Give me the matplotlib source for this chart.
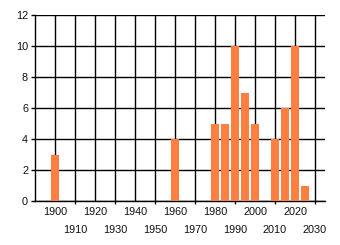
import matplotlib
matplotlib.use("Agg")
import matplotlib.pyplot as plt
import numpy as np

years = [1900, 1960, 1980, 1985, 1990, 1995, 2000, 2010, 2015, 2020, 2025]
counts = [3, 4, 5, 5, 10, 7, 5, 4, 6, 10, 1]
top_labels = [1900, 1920, 1940, 1960, 1980, 2000, 2020]
bottom_labels = [1910, 1930, 1950, 1970, 1990, 2010, 2030]
y_ticks = [0, 2, 4, 6, 8, 10, 12]

bar_color = "#FF7F40"
text_color = "#101018"

plt.rcParams["font.family"] = ["Liberation Sans", "DejaVu Sans"]

fig = plt.figure(figsize=(3.4, 2.45), dpi=100)
ax = fig.add_axes([35/340, 44/245, 290/340, 186/245])
ax.bar(years, counts, width=4, color=bar_color, zorder=3)
ax.set_xlim(1890, 2035)
ax.set_ylim(0, 12)
ax.set_yticks(y_ticks)
ax.set_xticks(top_labels)
ax.set_xticks(bottom_labels, minor=True)
ax.set_xticklabels([str(v) for v in top_labels])
ax.set_xticklabels([str(v) for v in bottom_labels], minor=True)
for s in ["top", "right"]:
    ax.spines[s].set_visible(False)
for s in ["left", "bottom"]:
    ax.spines[s].set_linewidth(1)
    ax.spines[s].set_color("black")
ax.grid(True, which="both", color="black", linewidth=1, zorder=0)
ax.set_axisbelow(True)
fs = 7.8
ax.tick_params(axis="x", which="major", length=0, pad=4, labelsize=fs, labelcolor=text_color)
ax.tick_params(axis="x", which="minor", length=2, pad=15, labelsize=fs, labelcolor=text_color, width=1)
ax.tick_params(axis="y", length=3, width=1, pad=2, labelsize=fs, labelcolor=text_color)
fig.savefig("out.png", dpi=100)
